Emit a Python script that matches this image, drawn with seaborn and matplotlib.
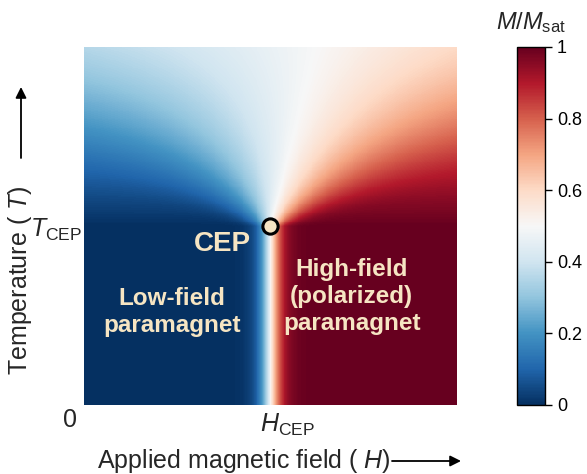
import numpy as np
import pandas as pd
import matplotlib
matplotlib.use("Agg")
import matplotlib.pyplot as plt
import seaborn as sns

sns.set_theme(style="white")
plt.rcParams["font.family"] = ["Liberation Sans", "DejaVu Sans"]
plt.rcParams["mathtext.fontset"] = "custom"
plt.rcParams["mathtext.rm"] = "Liberation Sans"
plt.rcParams["mathtext.it"] = "Liberation Sans:italic"
plt.rcParams["mathtext.bf"] = "Liberation Sans:bold"

# Critical end point (field and temperature in units of the plotted range)
H_CEP = 0.5
T_CEP = 0.5
# Magnetization on either side of the metamagnetic jump
M_LOW = 0.0
M_HIGH = 1.0
# Crossover model: width of the jump, its growth and fading above T_CEP
WIDTH_BELOW = 0.034
WIDTH_GROWTH = 1.3
AMP_DECAY = 0.6
CENTER_SHIFT = 0.25

cbar_ticks = [0, 0.2, 0.4, 0.6, 0.8, 1]
cbar_ticklabels = ["0", "0.2", "0.4", "0.6", "0.8", "1"]

region_labels = ["CEP", "Low-field\nparamagnet", "High-field\n(polarized)\nparamagnet"]

CREAM = "#f6e5c3"

# Magnetization map M(H, T)
n = 400
H = np.linspace(0, 1, n)
T = np.linspace(0, 1, n)
HH, TT = np.meshgrid(H, T)
h = HH - H_CEP
t = np.clip(TT - T_CEP, 0, None)
width = WIDTH_BELOW + WIDTH_GROWTH * t
amp = 0.5 * (M_HIGH - M_LOW) - AMP_DECAY * t
center = CENTER_SHIFT * t
M = 0.5 * (M_LOW + M_HIGH) + amp * np.tanh((h - center) / width)

# highest temperature in the top row
df = pd.DataFrame(M[::-1], index=np.round(T[::-1], 4), columns=np.round(H, 4))

fig = plt.figure(figsize=(5.87, 4.74), dpi=100)
ax = fig.add_axes([0.1431, 0.1456, 0.6354, 0.7553])
cax = fig.add_axes([0.8807, 0.1456, 0.0477, 0.7553])

sns.heatmap(df, ax=ax, cbar_ax=cax, cmap="RdBu_r", vmin=0, vmax=1,
            xticklabels=False, yticklabels=False, rasterized=True)
ax.set_xlabel("")
ax.set_ylabel("")
ax.tick_params(length=0)


def hx(hv):
    return 0.5 + hv * (n - 1)


def ty(tv):
    return 0.5 + (1 - tv) * (n - 1)


# critical end point marker
ax.plot([hx(H_CEP)], [ty(T_CEP)], "o", ms=11, mfc=CREAM, mec="black",
        mew=2.2, zorder=5, clip_on=False)

# region labels
ax.text(0.37, 0.45, region_labels[0], transform=ax.transAxes, ha="center",
        va="center", fontsize=20, fontweight="bold", color=CREAM)
ax.text(0.236, 0.26, region_labels[1], transform=ax.transAxes, ha="center",
        va="center", fontsize=17.5, fontweight="bold", color=CREAM,
        linespacing=1.22)
ax.text(0.718, 0.304, region_labels[2], transform=ax.transAxes, ha="center",
        va="center", fontsize=17.5, fontweight="bold", color=CREAM,
        linespacing=1.22)

# axis marks
ax.annotate(r"$T_{\mathrm{CEP}}$", xy=(0, ty(T_CEP)),
            xycoords=("axes fraction", "data"), xytext=(-1, -3),
            textcoords="offset points", ha="right", va="center", fontsize=18)
ax.annotate(r"$H_{\mathrm{CEP}}$", xy=(hx(H_CEP), 0),
            xycoords=("data", "axes fraction"), xytext=(12, -5),
            textcoords="offset points", ha="center", va="top", fontsize=18)
ax.annotate("0", xy=(0, 0), xycoords="axes fraction", xytext=(-10, -2),
            textcoords="offset points", ha="center", va="top", fontsize=18)

# axis titles with arrows
W, Hh = 587.0, 474.0
fig.text(97 / W, 1 - 461 / Hh, "Applied magnetic field ( $H$)", ha="left",
         va="center", fontsize=18)
fig.text(20 / W, 1 - 280 / Hh, "Temperature ( $T$)", rotation=90,
         ha="center", va="center", fontsize=18)
arrow = dict(arrowstyle="-|>", lw=1.3, color="black", mutation_scale=16,
             shrinkA=0, shrinkB=0)
ax.annotate("", xy=(461 / W, 1 - 461 / Hh), xytext=(392 / W, 1 - 461 / Hh),
            xycoords="figure fraction", textcoords="figure fraction",
            arrowprops=arrow)
ax.annotate("", xy=(21 / W, 1 - 87 / Hh), xytext=(21 / W, 1 - 158 / Hh),
            xycoords="figure fraction", textcoords="figure fraction",
            arrowprops=arrow)

# colorbar
cbar = ax.collections[0].colorbar
cbar.set_ticks(cbar_ticks)
cbar.set_ticklabels(cbar_ticklabels)
cbar.ax.tick_params(labelsize=13, length=5, width=1, direction="out",
                    colors="black", right=True)
cbar.outline.set_visible(True)
cbar.outline.set_edgecolor("black")
cbar.outline.set_linewidth(1)
cax.set_title(r"$M$/$M_{\mathrm{sat}}$", fontsize=17, pad=13)

fig.savefig("out.png", dpi=100)
